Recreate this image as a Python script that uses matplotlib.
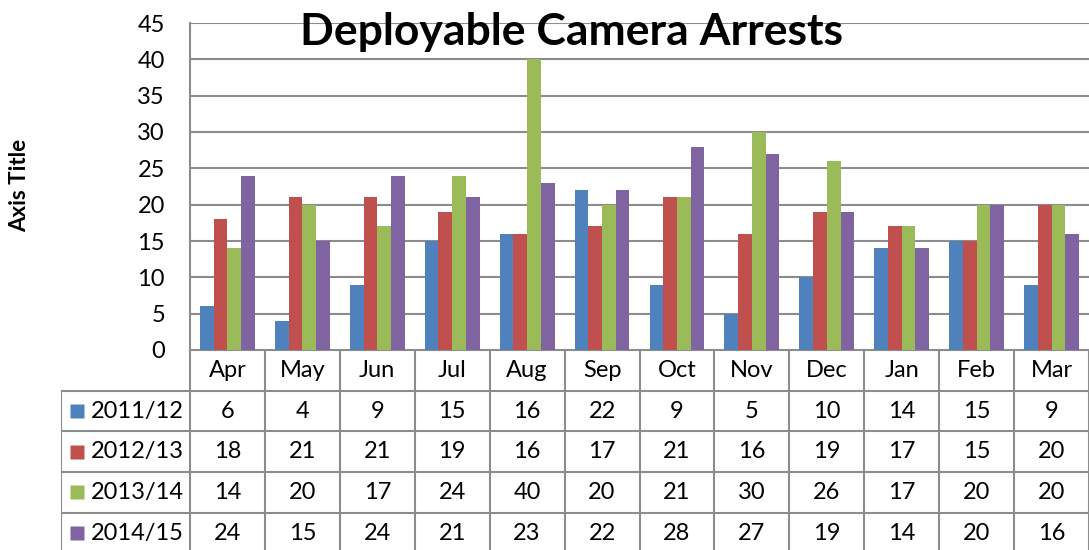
import matplotlib.pyplot as plt
import numpy as np

months = ['Apr', 'May', 'Jun', 'Jul', 'Aug', 'Sep', 'Oct', 'Nov', 'Dec', 'Jan', 'Feb', 'Mar']
series = ['2011/12', '2012/13', '2013/14', '2014/15']
s2011 = [6, 4, 9, 15, 16, 22, 9, 5, 10, 14, 15, 9]
s2012 = [18, 21, 21, 19, 16, 17, 21, 16, 19, 17, 15, 20]
s2013 = [14, 20, 17, 24, 40, 20, 21, 30, 26, 17, 20, 20]
s2014 = [24, 15, 24, 21, 23, 22, 28, 27, 19, 14, 20, 16]
colors = ['#4F81BD', '#C0504D', '#9BBB59', '#8064A2']

values = [s2011, s2012, s2013, s2014]

plt.rcParams['font.family'] = ['Lato', 'DejaVu Sans']
W, H = 1089, 550
fig = plt.figure(figsize=(W / 100, H / 100), dpi=100)

grid_c = '#8c8c8c'
fs = 17

# bar plot area
ax = fig.add_axes([190 / W, 1 - 350 / H, 1 - 190 / W, (350 - 23) / H])
x = np.arange(len(months))
bw = 0.183
for i, (vals, c) in enumerate(zip(values, colors)):
    ax.bar(x + 0.5 + (i - 1.5) * bw, vals, width=bw, color=c, zorder=3)
ax.set_xlim(0, 12)
ax.set_ylim(0, 45)
ax.set_yticks(range(0, 46, 5))
ax.set_xticks([])
ax.tick_params(axis='y', length=0, labelsize=fs, pad=18)
ax.grid(axis='y', color=grid_c, lw=1.5, zorder=0)
for s in ['top', 'right', 'bottom']:
    ax.spines[s].set_visible(False)
ax.spines['left'].set_color(grid_c)
ax.spines['left'].set_linewidth(1.5)

# data table below
tx0 = 61
tax = fig.add_axes([tx0 / W, 0, 1 - tx0 / W, 200 / H])
lab_w = (190 - tx0) / ((W - 190) / 12)
tax.set_xlim(-lab_w, 12)
nrows = 200 / 40.7
tax.set_ylim(nrows, 0)
tax.axis('off')
lk = dict(color=grid_c, lw=1.5)
tax.plot([0, 12], [0, 0], **lk)
for r in range(1, 5):
    tax.plot([-lab_w, 12], [r, r], **lk)
tax.plot([-lab_w, -lab_w], [1, nrows], **lk)
for c in range(0, 13):
    tax.plot([c, c], [0, nrows], **lk)
for j, m in enumerate(months):
    tax.text(j + 0.5, 0.5, m, ha='center', va='center', fontsize=fs)
for i, (name, vals, c) in enumerate(zip(series, values, colors)):
    yy = i + 1.5
    tax.plot(-lab_w + 0.22, yy, marker='s', ms=10, color=c, mec='none')
    tax.text(-lab_w + 0.4, yy, name, ha='left', va='center', fontsize=fs)
    for j, v in enumerate(vals):
        tax.text(j + 0.5, yy, str(v), ha='center', va='center', fontsize=fs)

fig.text(572 / W, 1 - 32 / H, 'Deployable Camera Arrests', ha='center', va='center',
         fontsize=32, fontweight='bold')
fig.text(20 / W, 1 - 185 / H, 'Axis Title', rotation=90, ha='center', va='center',
         fontsize=16, fontweight='bold')

fig.savefig('out.png', dpi=100)
